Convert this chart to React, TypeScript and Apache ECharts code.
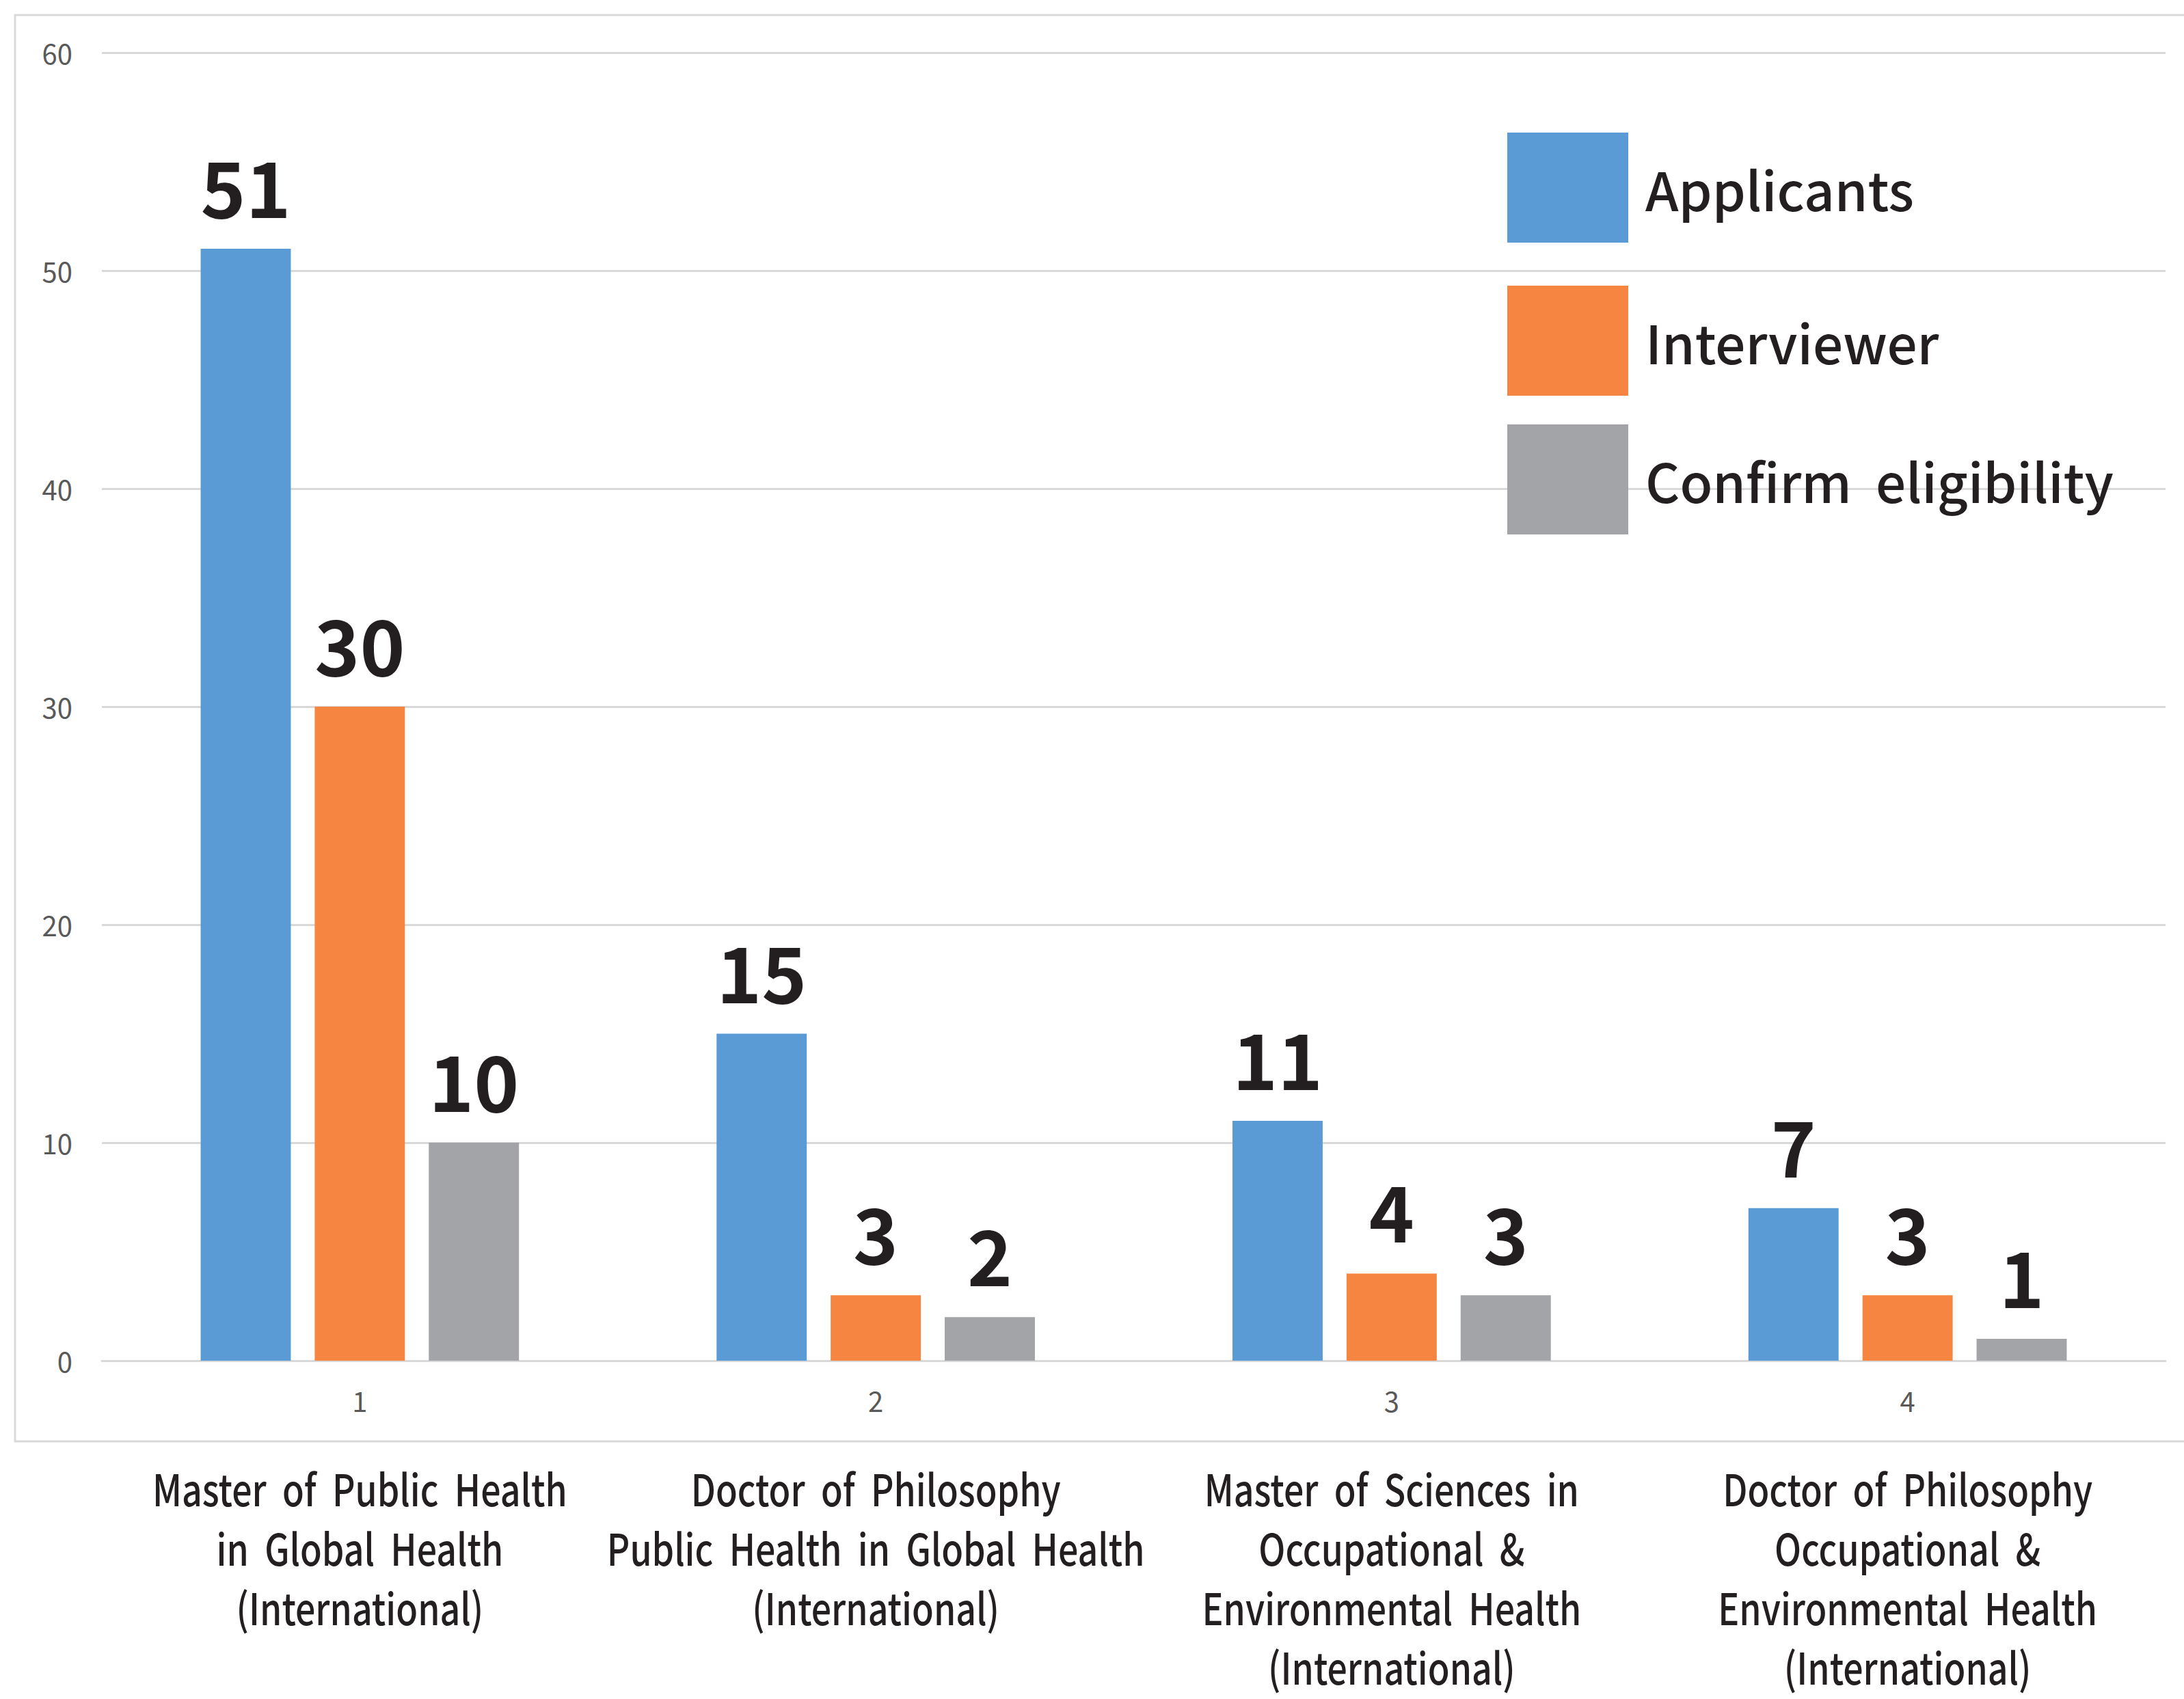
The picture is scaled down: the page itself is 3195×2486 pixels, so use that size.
import React, { useEffect, useRef } from "react";
import * as echarts from "echarts";

const categories = ["1", "2", "3", "4"];
const programNames = [
  "Master  of  Public  Health\nin  Global  Health\n(International)",
  "Doctor  of  Philosophy\nPublic  Health  in  Global  Health\n(International)",
  "Master  of  Sciences  in\nOccupational  &\nEnvironmental  Health\n(International)",
  "Doctor  of  Philosophy\nOccupational  &\nEnvironmental  Health\n(International)",
];
const seriesNames = ["Applicants", "Interviewer", "Confirm  eligibility"];
const applicants = [51, 15, 11, 7];
const interviewer = [30, 3, 4, 3];
const confirmEligibility = [10, 2, 3, 1];
const colors = ["#5B9BD5", "#F58540", "#A3A4A8"];

const FONT = '"Noto Sans CJK KR", "Noto Sans", sans-serif';

export default function App() {
  const ref = useRef<HTMLDivElement>(null);
  useEffect(() => {
    document.body.style.margin = "0";
    if (!ref.current) return;
    const chart = echarts.init(ref.current, null, { renderer: "svg" });
    const values = [applicants, interviewer, confirmEligibility];
    const legendTops = [194, 418, 621];
    const border = {
      type: "rect",
      shape: { x: 22, y: 22, width: 3300, height: 2087 },
      style: { fill: "none", stroke: "#D9D9D9", lineWidth: 3 },
      silent: true,
      z: -1,
    };
    chart.setOption({
      animation: false,
      backgroundColor: "#ffffff",
      textStyle: { fontFamily: FONT },
      graphic: [border],
      legend: seriesNames.map((n, i) => ({
        data: [n],
        left: 2205,
        top: legendTops[i],
        padding: 0,
        orient: "vertical",
        itemWidth: 177,
        itemHeight: 161,
        itemGap: 0,
        icon: "rect",
        textStyle: {
          fontFamily: FONT,
          fontSize: 78,
          fontWeight: 500,
          color: "#231F20",
          padding: [0, 0, 20, 20],
        },
        selectedMode: false,
      })),
      grid: {
        left: 149,
        right: 27,
        top: 77,
        bottom: 495,
        containLabel: false,
        outerBoundsMode: "none",
      },
      xAxis: {
        type: "category",
        data: categories,
        axisLine: { show: true, lineStyle: { color: "#D9D9D9", width: 3 } },
        axisTick: { show: false },
        axisLabel: {
          color: "#595959",
          fontSize: 40,
          fontFamily: FONT,
          margin: 38,
        },
      },
      yAxis: {
        type: "value",
        min: 0,
        max: 60,
        interval: 10,
        axisLine: { show: false },
        axisTick: { show: false },
        splitLine: { lineStyle: { color: "#D9D9D9", width: 3 } },
        axisLabel: {
          color: "#595959",
          fontSize: 40,
          fontFamily: FONT,
          margin: 43,
        },
      },
      series: seriesNames.map((n, i) => ({
        name: n,
        type: "bar",
        data: values[i],
        barGap: "26.5%",
        barCategoryGap: "38.3%",
        itemStyle: { color: colors[i] },
        label: {
          show: true,
          position: "top",
          distance: 38,
          fontSize: 112,
          fontWeight: "bold",
          color: "#231F20",
          fontFamily: FONT,
        },
      })),
    });
    // Program names below the chart frame, placed at each category's position on the x axis
    const baseY = chart.convertToPixel({ yAxisIndex: 0 }, 0) as number;
    const nameTexts = programNames.map((name, i) => {
      const cx = chart.convertToPixel({ xAxisIndex: 0 }, categories[i]) as number;
      return {
        type: "text",
        x: cx,
        y: baseY + 141,
        scaleX: 0.81,
        silent: true,
        style: {
          text: name,
          fontFamily: FONT,
          fontSize: 64,
          fontWeight: 500,
          lineHeight: 87,
          fill: "#231F20",
          align: "center",
          verticalAlign: "top",
        },
      };
    });
    chart.setOption({ graphic: [border, ...nameTexts] });
    return () => chart.dispose();
  }, []);
  return <div ref={ref} style={{ width: 3195, height: 2486 }} />;
}
